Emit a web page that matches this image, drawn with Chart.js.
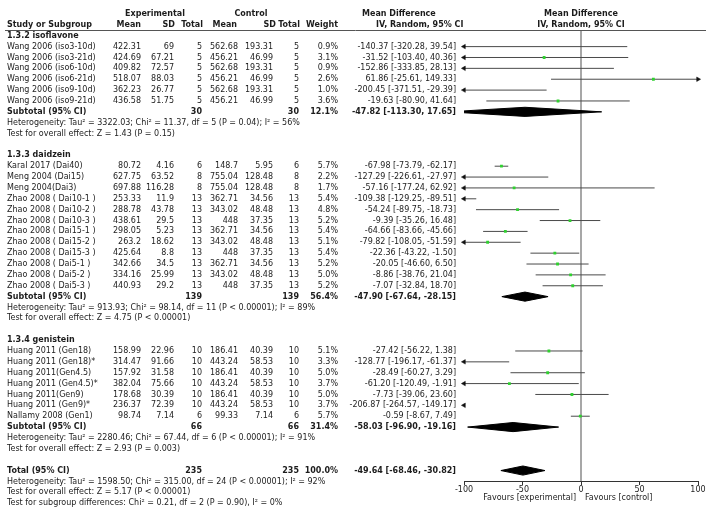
<!DOCTYPE html>
<html>
<head>
<meta charset="utf-8">
<script src="https://cdn.jsdelivr.net/npm/chart.js@4.4.1/dist/chart.umd.min.js"></script>
<style>
  html, body { margin: 0; padding: 0; background: #fff; }
  #wrap { width: 708px; height: 515px; position: relative; }
</style>
</head>
<body>
<div id="wrap"><canvas id="forest"></canvas></div>
<script>
// values
const groupTitles = ["1.3.2 isoflavone", "1.3.3 daidzein", "1.3.4 genistein"];

const isoStudies = ["Wang 2006 (iso3-10d)", "Wang 2006 (iso3-21d)", "Wang 2006 (iso6-10d)", "Wang 2006 (iso6-21d)", "Wang 2006 (iso9-10d)", "Wang 2006 (iso9-21d)"];
const isoExpMean = [422.31, 424.69, 409.82, 518.07, 362.23, 436.58];
const isoExpSD = [69, 67.21, 72.57, 88.03, 26.77, 51.75];
const isoExpN = [5, 5, 5, 5, 5, 5];
const isoCtlMean = [562.68, 456.21, 562.68, 456.21, 562.68, 456.21];
const isoCtlSD = [193.31, 46.99, 193.31, 46.99, 193.31, 46.99];
const isoCtlN = [5, 5, 5, 5, 5, 5];
const isoWeight = [0.9, 3.1, 0.9, 2.6, 1.0, 3.6];
const isoMD = [-140.37, -31.52, -152.86, 61.86, -200.45, -19.63];
const isoLo = [-320.28, -103.40, -333.85, -25.61, -371.51, -80.90];
const isoHi = [39.54, 40.36, 28.13, 149.33, -29.39, 41.64];

const daiStudies = ["Karal 2017 (Dai40)", "Meng 2004 (Dai15)", "Meng 2004(Dai3)", "Zhao 2008 ( Dai10-1 )", "Zhao 2008 ( Dai10-2 )", "Zhao 2008 ( Dai10-3 )", "Zhao 2008 ( Dai15-1 )", "Zhao 2008 ( Dai15-2 )", "Zhao 2008 ( Dai15-3 )", "Zhao 2008 ( Dai5-1 )", "Zhao 2008 ( Dai5-2 )", "Zhao 2008 ( Dai5-3 )"];
const daiExpMean = [80.72, 627.75, 697.88, 253.33, 288.78, 438.61, 298.05, 263.2, 425.64, 342.66, 334.16, 440.93];
const daiExpSD = [4.16, 63.52, 116.28, 11.9, 43.78, 29.5, 5.23, 18.62, 8.8, 34.5, 25.99, 29.2];
const daiExpN = [6, 8, 8, 13, 13, 13, 13, 13, 13, 13, 13, 13];
const daiCtlMean = [148.7, 755.04, 755.04, 362.71, 343.02, 448, 362.71, 343.02, 448, 362.71, 343.02, 448];
const daiCtlSD = [5.95, 128.48, 128.48, 34.56, 48.48, 37.35, 34.56, 48.48, 37.35, 34.56, 48.48, 37.35];
const daiCtlN = [6, 8, 8, 13, 13, 13, 13, 13, 13, 13, 13, 13];
const daiWeight = [5.7, 2.2, 1.7, 5.4, 4.8, 5.2, 5.4, 5.1, 5.4, 5.2, 5.0, 5.2];
const daiMD = [-67.98, -127.29, -57.16, -109.38, -54.24, -9.39, -64.66, -79.82, -22.36, -20.05, -8.86, -7.07];
const daiLo = [-73.79, -226.61, -177.24, -129.25, -89.75, -35.26, -83.66, -108.05, -43.22, -46.60, -38.76, -32.84];
const daiHi = [-62.17, -27.97, 62.92, -89.51, -18.73, 16.48, -45.66, -51.59, -1.50, 6.50, 21.04, 18.70];

const genStudies = ["Huang 2011 (Gen18)", "Huang 2011 (Gen18)*", "Huang 2011(Gen4.5)", "Huang 2011 (Gen4.5)*", "Huang 2011(Gen9)", "Huang 2011 (Gen9)*", "Nallamy 2008 (Gen1)"];
const genExpMean = [158.99, 314.47, 157.92, 382.04, 178.68, 236.37, 98.74];
const genExpSD = [22.96, 91.66, 31.58, 75.66, 30.39, 72.39, 7.14];
const genExpN = [10, 10, 10, 10, 10, 10, 6];
const genCtlMean = [186.41, 443.24, 186.41, 443.24, 186.41, 443.24, 99.33];
const genCtlSD = [40.39, 58.53, 40.39, 58.53, 40.39, 58.53, 7.14];
const genCtlN = [10, 10, 10, 10, 10, 10, 6];
const genWeight = [5.1, 3.3, 5.0, 3.7, 5.0, 3.7, 5.7];
const genMD = [-27.42, -128.77, -28.49, -61.20, -7.73, -206.87, -0.59];
const genLo = [-56.22, -196.17, -60.27, -120.49, -39.06, -264.57, -8.67];
const genHi = [1.38, -61.37, 3.29, -1.91, 23.60, -149.17, 7.49];

const subExpN = [30, 139, 66];
const subCtlN = [30, 139, 66];
const subWeight = [12.1, 56.4, 31.4];
const subMD = [-47.82, -47.90, -58.03];
const subLo = [-113.30, -67.64, -96.90];
const subHi = [17.65, -28.15, -19.16];
const subHet = [
  "Heterogeneity: Tau\u00b2 = 3322.03; Chi\u00b2 = 11.37, df = 5 (P = 0.04); I\u00b2 = 56%",
  "Heterogeneity: Tau\u00b2 = 913.93; Chi\u00b2 = 98.14, df = 11 (P < 0.00001); I\u00b2 = 89%",
  "Heterogeneity: Tau\u00b2 = 2280.46; Chi\u00b2 = 67.44, df = 6 (P < 0.00001); I\u00b2 = 91%"
];
const subTest = [
  "Test for overall effect: Z = 1.43 (P = 0.15)",
  "Test for overall effect: Z = 4.75 (P < 0.00001)",
  "Test for overall effect: Z = 2.93 (P = 0.003)"
];

const totalN = [235, 235];
const totalWeight = 100.0;
const totalMD = [-49.64, -68.46, -30.82];
const totalNotes = [
  "Heterogeneity: Tau\u00b2 = 1598.50; Chi\u00b2 = 315.00, df = 24 (P < 0.00001); I\u00b2 = 92%",
  "Test for overall effect: Z = 5.17 (P < 0.00001)",
  "Test for subgroup differences: Chi\u00b2 = 0.21, df = 2 (P = 0.90), I\u00b2 = 0%"
];

const xTicks = [-100, -50, 0, 50, 100];

// ---------------------------------------------------------------
const groups = [
  [isoStudies, isoExpMean, isoExpSD, isoExpN, isoCtlMean, isoCtlSD, isoCtlN, isoWeight, isoMD, isoLo, isoHi],
  [daiStudies, daiExpMean, daiExpSD, daiExpN, daiCtlMean, daiCtlSD, daiCtlN, daiWeight, daiMD, daiLo, daiHi],
  [genStudies, genExpMean, genExpSD, genExpN, genCtlMean, genCtlSD, genCtlN, genWeight, genMD, genLo, genHi]
];

const ciText = (m, l, h) => `${m.toFixed(2)} [${l.toFixed(2)}, ${h.toFixed(2)}]`;

// lay out rows: 0-1 header, then groups
const textRows = [];
const studyRows = [];
const diamondRows = [];
let row = 2;
groups.forEach((g, gi) => {
  textRows.push({ r: row++, kind: "title", text: groupTitles[gi] });
  g[0].forEach((name, i) => {
    textRows.push({
      r: row, kind: "study", text: name,
      cells: [g[1][i], g[2][i], g[3][i], g[4][i], g[5][i], g[6][i], g[7][i].toFixed(1) + "%"].map(String),
      ci: ciText(g[8][i], g[9][i], g[10][i])
    });
    studyRows.push({ r: row, md: g[8][i], lo: g[9][i], hi: g[10][i] });
    row++;
  });
  textRows.push({
    r: row, kind: "sub", text: "Subtotal (95% CI)",
    cells: ["", "", String(subExpN[gi]), "", "", String(subCtlN[gi]), subWeight[gi].toFixed(1) + "%"],
    ci: ciText(subMD[gi], subLo[gi], subHi[gi])
  });
  diamondRows.push({ r: row, md: subMD[gi], lo: subLo[gi], hi: subHi[gi] });
  row++;
  textRows.push({ r: row++, kind: "note", text: subHet[gi] });
  textRows.push({ r: row++, kind: "note", text: subTest[gi] });
  row++;
});
textRows.push({
  r: row, kind: "sub", text: "Total (95% CI)",
  cells: ["", "", String(totalN[0]), "", "", String(totalN[1]), totalWeight.toFixed(1) + "%"],
  ci: ciText(totalMD[0], totalMD[1], totalMD[2])
});
diamondRows.push({ r: row, md: totalMD[0], lo: totalMD[1], hi: totalMD[2] });
const totalRow = row;
row++;
totalNotes.forEach(t => textRows.push({ r: row++, kind: "note", text: t }));

const AXIS_ROW = totalRow + 0.97;
const FONT = "'DejaVu Sans', sans-serif";
const FS = 8;

// datasets
const datasets = [];

datasets.push({
  label: "points",
  data: studyRows.map(s => ({ x: s.md, y: s.r })),
  showLine: false,
  pointStyle: "rect",
  pointRadius: 2,
  pointBackgroundColor: "#2fd12f",
  pointBorderWidth: 0,
  order: 0
});

const arrows = [];
studyRows.forEach(s => {
  if (s.lo < -100) arrows.push({ x: -100, y: s.r, rot: 270 });
  if (s.hi > 100) arrows.push({ x: 100, y: s.r, rot: 90 });
});
datasets.push({
  label: "arrows",
  data: arrows,
  showLine: false,
  clip: false,
  pointStyle: "triangle",
  pointRadius: 2.6,
  pointRotation: arrows.map(a => a.rot),
  pointBackgroundColor: "#111",
  pointBorderColor: "#111",
  pointBorderWidth: 0.5,
  order: 1
});

diamondRows.forEach(d => {
  datasets.push({
    label: "diamond",
    data: [
      { x: d.lo, y: d.r }, { x: d.md, y: d.r - 0.42 }, { x: d.hi, y: d.r },
      { x: d.md, y: d.r + 0.42 }, { x: d.lo, y: d.r }
    ],
    showLine: true,
    fill: "shape",
    backgroundColor: "#000",
    borderColor: "#000",
    borderWidth: 1,
    pointRadius: 0,
    tension: 0,
    order: 2
  });
});

studyRows.forEach(s => {
  datasets.push({
    label: "ci",
    data: [{ x: s.lo, y: s.r }, { x: s.hi, y: s.r }],
    showLine: true,
    borderColor: "#4a4a4a",
    borderWidth: 1,
    pointRadius: 0,
    order: 3
  });
});

datasets.push({
  label: "zero",
  data: [{ x: 0, y: 1.5 }, { x: 0, y: AXIS_ROW }],
  showLine: true,
  borderColor: "#8a8a8a",
  borderWidth: 1.5,
  pointRadius: 0,
  order: 4
});

const tablePlugin = {
  id: "table",
  afterDraw(chart) {
    const { ctx } = chart;
    const ys = chart.scales.y;
    const xs = chart.scales.x;
    const put = (t, x, r, align, bold) => {
      ctx.font = (bold ? "bold " : "") + FS + "px " + FONT;
      ctx.textAlign = align;
      ctx.fillText(t, x, ys.getPixelForValue(r));
    };
    ctx.save();
    ctx.fillStyle = "#1c1c1c";
    ctx.textBaseline = "middle";

    // header
    put("Experimental", 155, 0, "center", true);
    put("Control", 251, 0, "center", true);
    put("Study or Subgroup", 7, 1, "left", true);
    [["Mean", 141], ["SD", 175], ["Total", 203], ["Mean", 237], ["SD", 276], ["Total", 300], ["Weight", 338]]
      .forEach(([t, x]) => put(t, x, 1, "right", true));
    put("Mean Difference", 362, 0, "left", true);
    put("IV, Random, 95% CI", 376, 1, "left", true);
    const x0 = xs.getPixelForValue(0);
    put("Mean Difference", x0, 0, "center", true);
    put("IV, Random, 95% CI", x0, 1, "center", true);

    const colX = [141, 174, 202, 238, 273, 299, 338];
    textRows.forEach(tr => {
      const bold = tr.kind === "title" || tr.kind === "sub";
      put(tr.text, 7, tr.r, "left", bold);
      if (tr.cells) {
        tr.cells.forEach((c, i) => { if (c) put(c, colX[i], tr.r, "right", bold); });
        put(tr.ci, 456, tr.r, "right", bold);
      }
    });

    // favours labels under the axis
    put("Favours [experimental]", x0 - 5, AXIS_ROW + 1.57, "right", false);
    put("Favours [control]", x0 + 4, AXIS_ROW + 1.57, "left", false);

    // header rule
    ctx.strokeStyle = "#555";
    ctx.lineWidth = 1;
    ctx.beginPath();
    const yl = Math.round(ys.getPixelForValue(1.5)) + 0.5;
    ctx.moveTo(5, yl);
    ctx.lineTo(706, yl);
    ctx.stroke();
    ctx.restore();
  }
};

new Chart(document.getElementById("forest").getContext("2d"), {
  type: "scatter",
  data: { datasets },
  options: {
    responsive: true,
    maintainAspectRatio: false,
    animation: false,
    layout: { padding: { left: 464, right: 10, top: 8.57, bottom: 6.4 } },
    plugins: { legend: { display: false }, tooltip: { enabled: false } },
    scales: {
      x: {
        type: "linear",
        min: -100,
        max: 100,
        position: { y: AXIS_ROW },
        afterBuildTicks: scale => { scale.ticks = xTicks.map(v => ({ value: v })); },
        grid: { drawOnChartArea: false, drawTicks: true, tickLength: 3, color: "#333" },
        border: { display: true, color: "#333", width: 1 },
        ticks: { font: { family: FONT, size: FS }, color: "#222", padding: 1, maxRotation: 0 }
      },
      y: {
        type: "linear",
        min: -0.5,
        max: 45.5,
        reverse: true,
        display: false
      }
    }
  },
  plugins: [tablePlugin]
});
</script>
</body>
</html>
